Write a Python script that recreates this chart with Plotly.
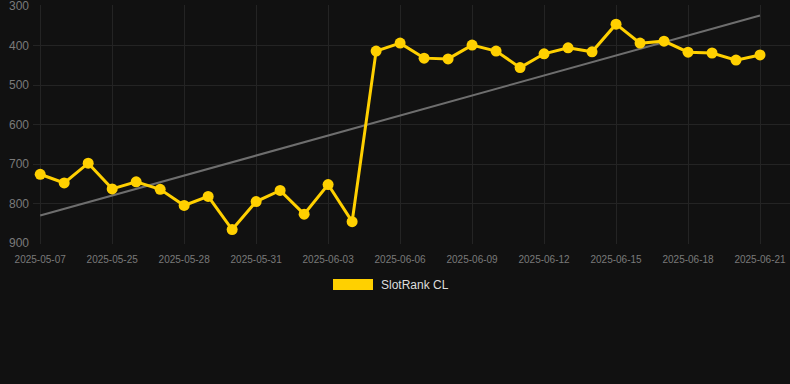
import numpy as np
import plotly.graph_objects as go

dates = ["2025-05-07", "2025-05-23", "2025-05-24", "2025-05-25", "2025-05-26", "2025-05-27",
         "2025-05-28", "2025-05-29", "2025-05-30", "2025-05-31", "2025-06-01", "2025-06-02",
         "2025-06-03", "2025-06-04", "2025-06-05", "2025-06-06", "2025-06-07", "2025-06-08",
         "2025-06-09", "2025-06-10", "2025-06-11", "2025-06-12", "2025-06-13", "2025-06-14",
         "2025-06-15", "2025-06-16", "2025-06-17", "2025-06-18", "2025-06-19", "2025-06-20",
         "2025-06-21"]
ranks = [726, 748, 698, 763, 745, 764, 805, 782, 866, 795, 767, 827, 752, 846,
         414, 394, 432, 434, 399, 414, 456, 421, 406, 416, 346, 394, 389, 417, 419, 437, 424]
tick_labels = dates[0::3]
y_ticks = [300, 400, 500, 600, 700, 800, 900]

idx = np.arange(len(ranks))
slope, intercept = np.polyfit(idx, ranks, 1)
trend = slope * idx + intercept

fig = go.Figure()
fig.add_trace(go.Scatter(x=idx, y=trend, mode="lines",
                         line=dict(color="#6e6e6e", width=2), showlegend=False, hoverinfo="skip"))
fig.add_trace(go.Scatter(x=idx, y=ranks, mode="lines+markers", name="SlotRank CL",
                         line=dict(color="#FFD000", width=3),
                         marker=dict(color="#FFD000", size=11), showlegend=False))

fig.update_layout(
    width=790, height=384,
    paper_bgcolor="#111111", plot_bgcolor="#111111",
    margin=dict(l=33, r=0, t=5, b=140),
    font=dict(family="Liberation Sans, Arial, sans-serif", color="#7a7a7a"),
    xaxis=dict(range=[-0.3, 31.25], tickmode="array", tickvals=list(idx[0::3]),
               ticktext=tick_labels, showgrid=True, gridcolor="#242424", gridwidth=1,
               zeroline=False, showline=False, tickfont=dict(size=10, color="#7a7a7a"),
               ticks="", ticklabelstandoff=8, ticklabeloverflow="allow"),
    yaxis=dict(range=[902.5, 297.5], tickvals=y_ticks, showgrid=True, gridcolor="#242424",
               zeroline=False, showline=False, tickfont=dict(size=12, color="#7a7a7a"),
               ticks="", ticklabelstandoff=3, ticklabeloverflow="allow"),
    shapes=[dict(type="rect", xref="paper", yref="paper", x0=(333 - 33) / 757, x1=(373 - 33) / 757,
                 y0=-(279 - 244) / 239, y1=-(290 - 244) / 239,
                 fillcolor="#FFD000", line=dict(width=0))],
    annotations=[dict(text="SlotRank CL", xref="paper", yref="paper",
                      x=(379 - 33) / 757, y=-(285 - 244) / 239, xanchor="left", yanchor="middle",
                      showarrow=False, font=dict(size=12, color="#dddddd"))],
)
fig.write_html("out.html", config={"displayModeBar": False},
               post_script="document.body.style.margin='0';document.body.style.background='#111111';")
